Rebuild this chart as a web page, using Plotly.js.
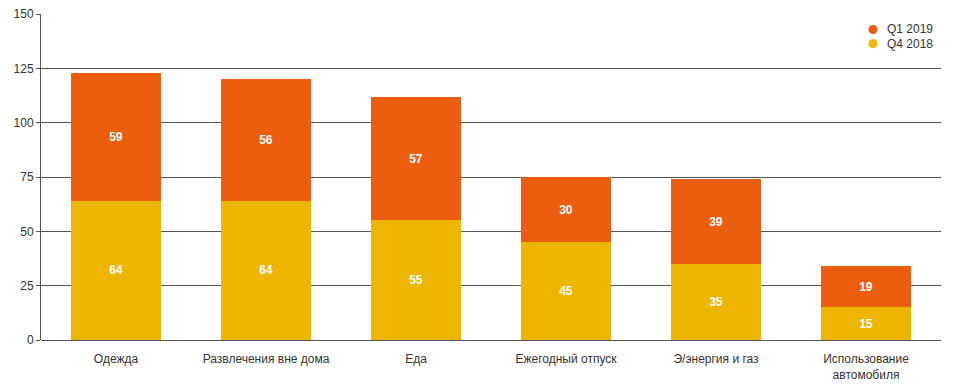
<!DOCTYPE html>
<html><head><meta charset="utf-8">
<script src="https://cdn.plot.ly/plotly-3.0.1.min.js"></script>
<style>body{margin:0;background:#fff}#chart{width:953px;height:384px}</style>
</head><body><div id="chart"></div>
<script>
const categories = ["Одежда", "Развлечения вне дома", "Еда", "Ежегодный отпуск", "Э/энергия и газ", "Использование<br>автомобиля"];
const q4_2018 = [64, 64, 55, 45, 35, 15];
const q1_2019 = [59, 56, 57, 30, 39, 19];
const yTicks = [0, 25, 50, 75, 100, 125, 150];
const legendNames = ["Q1 2019", "Q4 2018"];

const cQ4 = "#EDB500";
const cQ1 = "#EB5E0F";
const legendColors = [cQ1, cQ4];
const txtFont = {family: "Arial, Liberation Sans, sans-serif", size: 12, color: "#ffffff", weight: "bold"};

const data = [
  {type: "bar", name: "Q4 2018", x: categories, y: q4_2018, marker: {color: cQ4},
   text: q4_2018.map(String), textposition: "inside", insidetextanchor: "middle",
   textfont: txtFont, showlegend: false},
  {type: "bar", name: "Q1 2019", x: categories, y: q1_2019, marker: {color: cQ1},
   text: q1_2019.map(String), textposition: "inside", insidetextanchor: "middle",
   textfont: txtFont, showlegend: false}
];

// Manual legend (pixel layout converted to paper coords)
const W = 953, H = 384, mL = 41, mR = 12, mT = 14, mB = 44;
const pw = W - mL - mR, ph = H - mT - mB;
const px = x => (x - mL) / pw;
const py = y => (H - mB - y) / ph;

const shapes = [
  {type: "rect", xref: "paper", yref: "paper", x0: px(858), x1: px(946), y0: py(58), y1: py(8),
   fillcolor: "#fff", line: {width: 0}, layer: "above"}
];
const annotations = [];
legendNames.forEach((n, i) => {
  const cy = 29.5 + i * 14;
  shapes.push({type: "circle", xref: "paper", yref: "paper",
    x0: px(868.5), x1: px(877.5), y0: py(cy + 4.5), y1: py(cy - 4.5),
    fillcolor: legendColors[i], line: {width: 0}, layer: "above"});
  annotations.push({xref: "paper", yref: "paper", x: px(885), y: py(cy),
    xanchor: "left", yanchor: "middle", showarrow: false, text: n,
    font: {size: 12, color: "#333"}});
});

const layout = {
  width: W, height: H,
  margin: {l: mL, r: mR, t: mT, b: mB, pad: 0},
  barmode: "stack", bargap: 0.4,
  paper_bgcolor: "#fff", plot_bgcolor: "#fff",
  font: {family: "Arial, Liberation Sans, sans-serif", size: 12, color: "#333"},
  xaxis: {type: "category", showgrid: false, ticks: "outside", ticklen: 8, tickcolor: "rgba(0,0,0,0)",
          showline: false, zeroline: false, tickfont: {size: 12, color: "#333"}, fixedrange: true},
  yaxis: {range: [0, 150], tickvals: yTicks, ticktext: yTicks.map(String),
          showgrid: true, gridcolor: "#555", gridwidth: 1,
          zeroline: true, zerolinecolor: "#555", zerolinewidth: 1,
          showline: true, linecolor: "#555", linewidth: 1,
          ticks: "outside", ticklen: 4, tickcolor: "#555",
          tickfont: {size: 12, color: "#333"}, fixedrange: true},
  shapes: shapes,
  annotations: annotations,
  showlegend: false
};

Plotly.newPlot("chart", data, layout, {displayModeBar: false, staticPlot: true});
</script></body></html>
